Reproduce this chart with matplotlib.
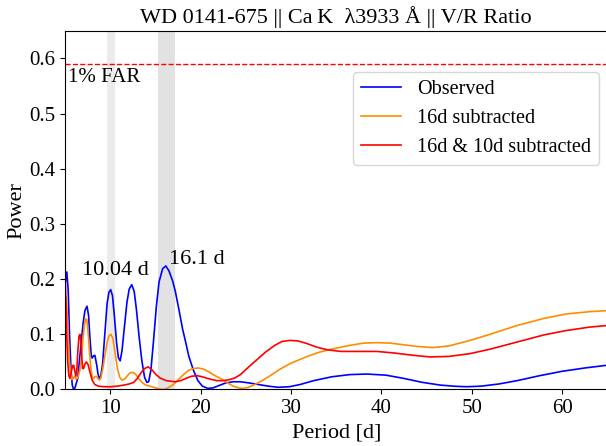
import matplotlib
matplotlib.use('Agg')
import matplotlib.pyplot as plt

plt.rcParams['font.family'] = ['Liberation Serif', 'DejaVu Serif']

# ---------------------------------------------------------------------------
# Periodogram values
# ---------------------------------------------------------------------------
obs_period = [5.0, 5.2, 5.35, 5.5, 5.65, 5.8, 5.95, 6.1, 6.4, 6.7, 7.0, 7.2, 7.43,
              7.6, 7.75, 7.9, 8.0, 8.15, 8.3, 8.5, 8.65, 8.8, 8.95, 9.15, 9.4,
              9.65, 9.85, 10.05, 10.25, 10.45, 10.7, 10.9, 11.1, 11.3, 11.55,
              11.85, 12.1, 12.38, 12.65, 12.9, 13.2, 13.5, 13.8, 14.05, 14.25,
              14.5, 14.8, 15.1, 15.4, 15.8, 16.15, 16.5, 16.9, 17.2, 17.6, 18.0,
              18.3, 18.7, 19.2, 19.7, 20.2, 20.8, 21.4, 22.0, 22.8, 23.6, 24.4,
              25.3, 26.4, 27.5, 28.6, 29.8, 31.0, 32.5, 34.5, 36.5, 38.4, 40.5,
              42.5, 44.5, 46.5, 48.0, 49.4, 51.0, 53.0, 55.0, 57.5, 60.0, 62.5,
              65.0]
obs_power = [0.19, 0.213, 0.18, 0.1, 0.04, 0.008, 0.0, 0.003, 0.02, 0.07, 0.12,
             0.143, 0.151, 0.135, 0.095, 0.062, 0.057, 0.061, 0.062, 0.045,
             0.028, 0.02, 0.024, 0.045, 0.1, 0.155, 0.176, 0.181, 0.17, 0.135,
             0.085, 0.058, 0.052, 0.07, 0.11, 0.158, 0.182, 0.19, 0.178, 0.145,
             0.095, 0.052, 0.022, 0.013, 0.014, 0.035, 0.09, 0.15, 0.195, 0.219,
             0.224, 0.215, 0.197, 0.178, 0.145, 0.11, 0.089, 0.06, 0.035, 0.016,
             0.006, 0.002, 0.003, 0.007, 0.012, 0.014, 0.014, 0.012, 0.009,
             0.006, 0.004, 0.005, 0.009, 0.016, 0.023, 0.027, 0.028, 0.026,
             0.02, 0.013, 0.008, 0.006, 0.005, 0.006, 0.01, 0.016, 0.025, 0.033,
             0.039, 0.044]

sub16_period = [5.0, 5.15, 5.3, 5.45, 5.6, 5.75, 5.9, 6.05, 6.2, 6.35, 6.5, 6.7,
                6.85, 7.0, 7.15, 7.3, 7.42, 7.55, 7.7, 7.85, 8.0, 8.15, 8.3, 8.45,
                8.6, 8.8, 8.95, 9.15, 9.4, 9.65, 9.85, 10.09, 10.3, 10.55, 10.8,
                11.05, 11.3, 11.6, 11.9, 12.2, 12.5, 12.8, 13.1, 13.5, 13.9, 14.4,
                15.0, 15.5, 15.9, 16.4, 16.9, 17.5, 18.1, 18.7, 19.2, 19.75, 20.3,
                20.9, 21.5, 22.2, 22.9, 23.6, 24.2, 24.7, 25.3, 26.0, 26.8, 27.7,
                28.7, 29.9, 31.5, 33.0, 34.7, 36.5, 38.0, 39.5, 41.0, 42.5, 44.0,
                45.7, 47.5, 49.8, 52.0, 55.0, 58.0, 60.5, 63.0, 65.0]
sub16_power = [0.17, 0.165, 0.12, 0.06, 0.03, 0.018, 0.02, 0.024, 0.019, 0.02,
               0.026, 0.04, 0.065, 0.095, 0.118, 0.128, 0.126, 0.105, 0.07, 0.04,
               0.023, 0.02, 0.023, 0.024, 0.021, 0.017, 0.02, 0.035, 0.06, 0.085,
               0.097, 0.1, 0.092, 0.065, 0.038, 0.022, 0.017, 0.019, 0.025, 0.03,
               0.031, 0.028, 0.021, 0.013, 0.008, 0.006, 0.003, 0.001, 0.0, 0.003,
               0.008, 0.017, 0.027, 0.035, 0.038, 0.039, 0.037, 0.032, 0.026,
               0.02, 0.013, 0.006, 0.003, 0.002, 0.004, 0.009, 0.016, 0.025,
               0.036, 0.047, 0.058, 0.067, 0.074, 0.08, 0.084, 0.085, 0.084,
               0.081, 0.078, 0.076, 0.079, 0.089, 0.1, 0.116, 0.129, 0.137, 0.141,
               0.143]

sub16_10_period = [5.0, 5.08, 5.18, 5.3, 5.42, 5.55, 5.7, 5.85, 5.96, 6.08, 6.2,
                   6.3, 6.42, 6.55, 6.65, 6.75, 6.85, 6.95, 7.05, 7.2, 7.36, 7.55,
                   7.75, 8.0, 8.3, 8.7, 9.3, 10.0, 10.75, 11.5, 12.1, 12.6, 13.0,
                   13.4, 13.8, 14.2, 14.6, 15.0, 15.5, 16.2, 17.2, 17.8, 18.5, 19.0,
                   19.6, 20.2, 21.0, 21.8, 22.5, 23.2, 23.8, 24.4, 25.0, 25.6, 26.3,
                   27.2, 28.2, 29.0, 29.9, 30.8, 31.8, 32.8, 34.0, 35.5, 37.5, 39.5,
                   41.5, 43.5, 45.4, 47.5, 49.8, 52.0, 55.0, 58.0, 60.5, 63.0, 65.0]
sub16_10_power = [0.23, 0.17, 0.1, 0.05, 0.025, 0.02, 0.033, 0.043, 0.044, 0.033,
                  0.024, 0.035, 0.07, 0.097, 0.1, 0.088, 0.06, 0.038, 0.038,
                  0.046, 0.05, 0.045, 0.032, 0.017, 0.009, 0.006, 0.005, 0.005,
                  0.006, 0.008, 0.01, 0.013, 0.02, 0.03, 0.038, 0.041, 0.036,
                  0.028, 0.021, 0.016, 0.014, 0.016, 0.021, 0.024, 0.025, 0.023,
                  0.019, 0.016, 0.016, 0.018, 0.021, 0.027, 0.036, 0.045, 0.055,
                  0.068, 0.08, 0.087, 0.089, 0.088, 0.083, 0.077, 0.072, 0.069,
                  0.069, 0.069, 0.066, 0.062, 0.059, 0.06, 0.065, 0.073, 0.086,
                  0.099, 0.107, 0.113, 0.116]

FAR_1PCT = 0.59
BANDS = [(9.6, 10.5), (15.3, 17.2)]
PEAK_LABELS = [('10.04 d', 6.85, 0.207), ('16.1 d', 16.5, 0.228)]

fig = plt.figure(figsize=(6.06, 4.46), dpi=100)
ax = fig.add_axes([0.1073, 0.1267, 0.895, 0.804])

ax.axvspan(*BANDS[0], color='#d9d9d9', alpha=0.5, lw=0)
ax.axvspan(*BANDS[1], color='#d9d9d9', alpha=0.75, lw=0)

ax.plot(obs_period, obs_power, color='blue', lw=1.2, label='Observed')
ax.plot(sub16_period, sub16_power, color='darkorange', lw=1.2, label='16d subtracted')
ax.plot(sub16_10_period, sub16_10_power, color='red', lw=1.2,
        label='16d & 10d subtracted')

ax.axhline(FAR_1PCT, color='red', ls='--', lw=1.0)
ax.text(5.3, 0.565, '1% FAR', fontsize=15, va='center', ha='left')

for txt, x, y in PEAK_LABELS:
    ax.text(x, y, txt, fontsize=16, ha='left', va='baseline')

ax.set_xlim(5, 65)
ax.set_ylim(0, 0.65)
ax.set_xticks([10, 20, 30, 40, 50, 60])
ax.set_yticks([0.0, 0.1, 0.2, 0.3, 0.4, 0.5, 0.6])
ax.tick_params(labelsize=15)
ax.set_xlabel('Period [d]', fontsize=16)
ax.set_ylabel('Power', fontsize=16, labelpad=2)
ax.set_title('WD 0141-675 || Ca\u2009K  \u03bb3933 Å || V/R Ratio', fontsize=16)

ax.legend(loc='upper right', bbox_to_anchor=(0.985, 0.886), borderaxespad=0,
          fontsize=14.5)

fig.savefig('out.png', dpi=100)
